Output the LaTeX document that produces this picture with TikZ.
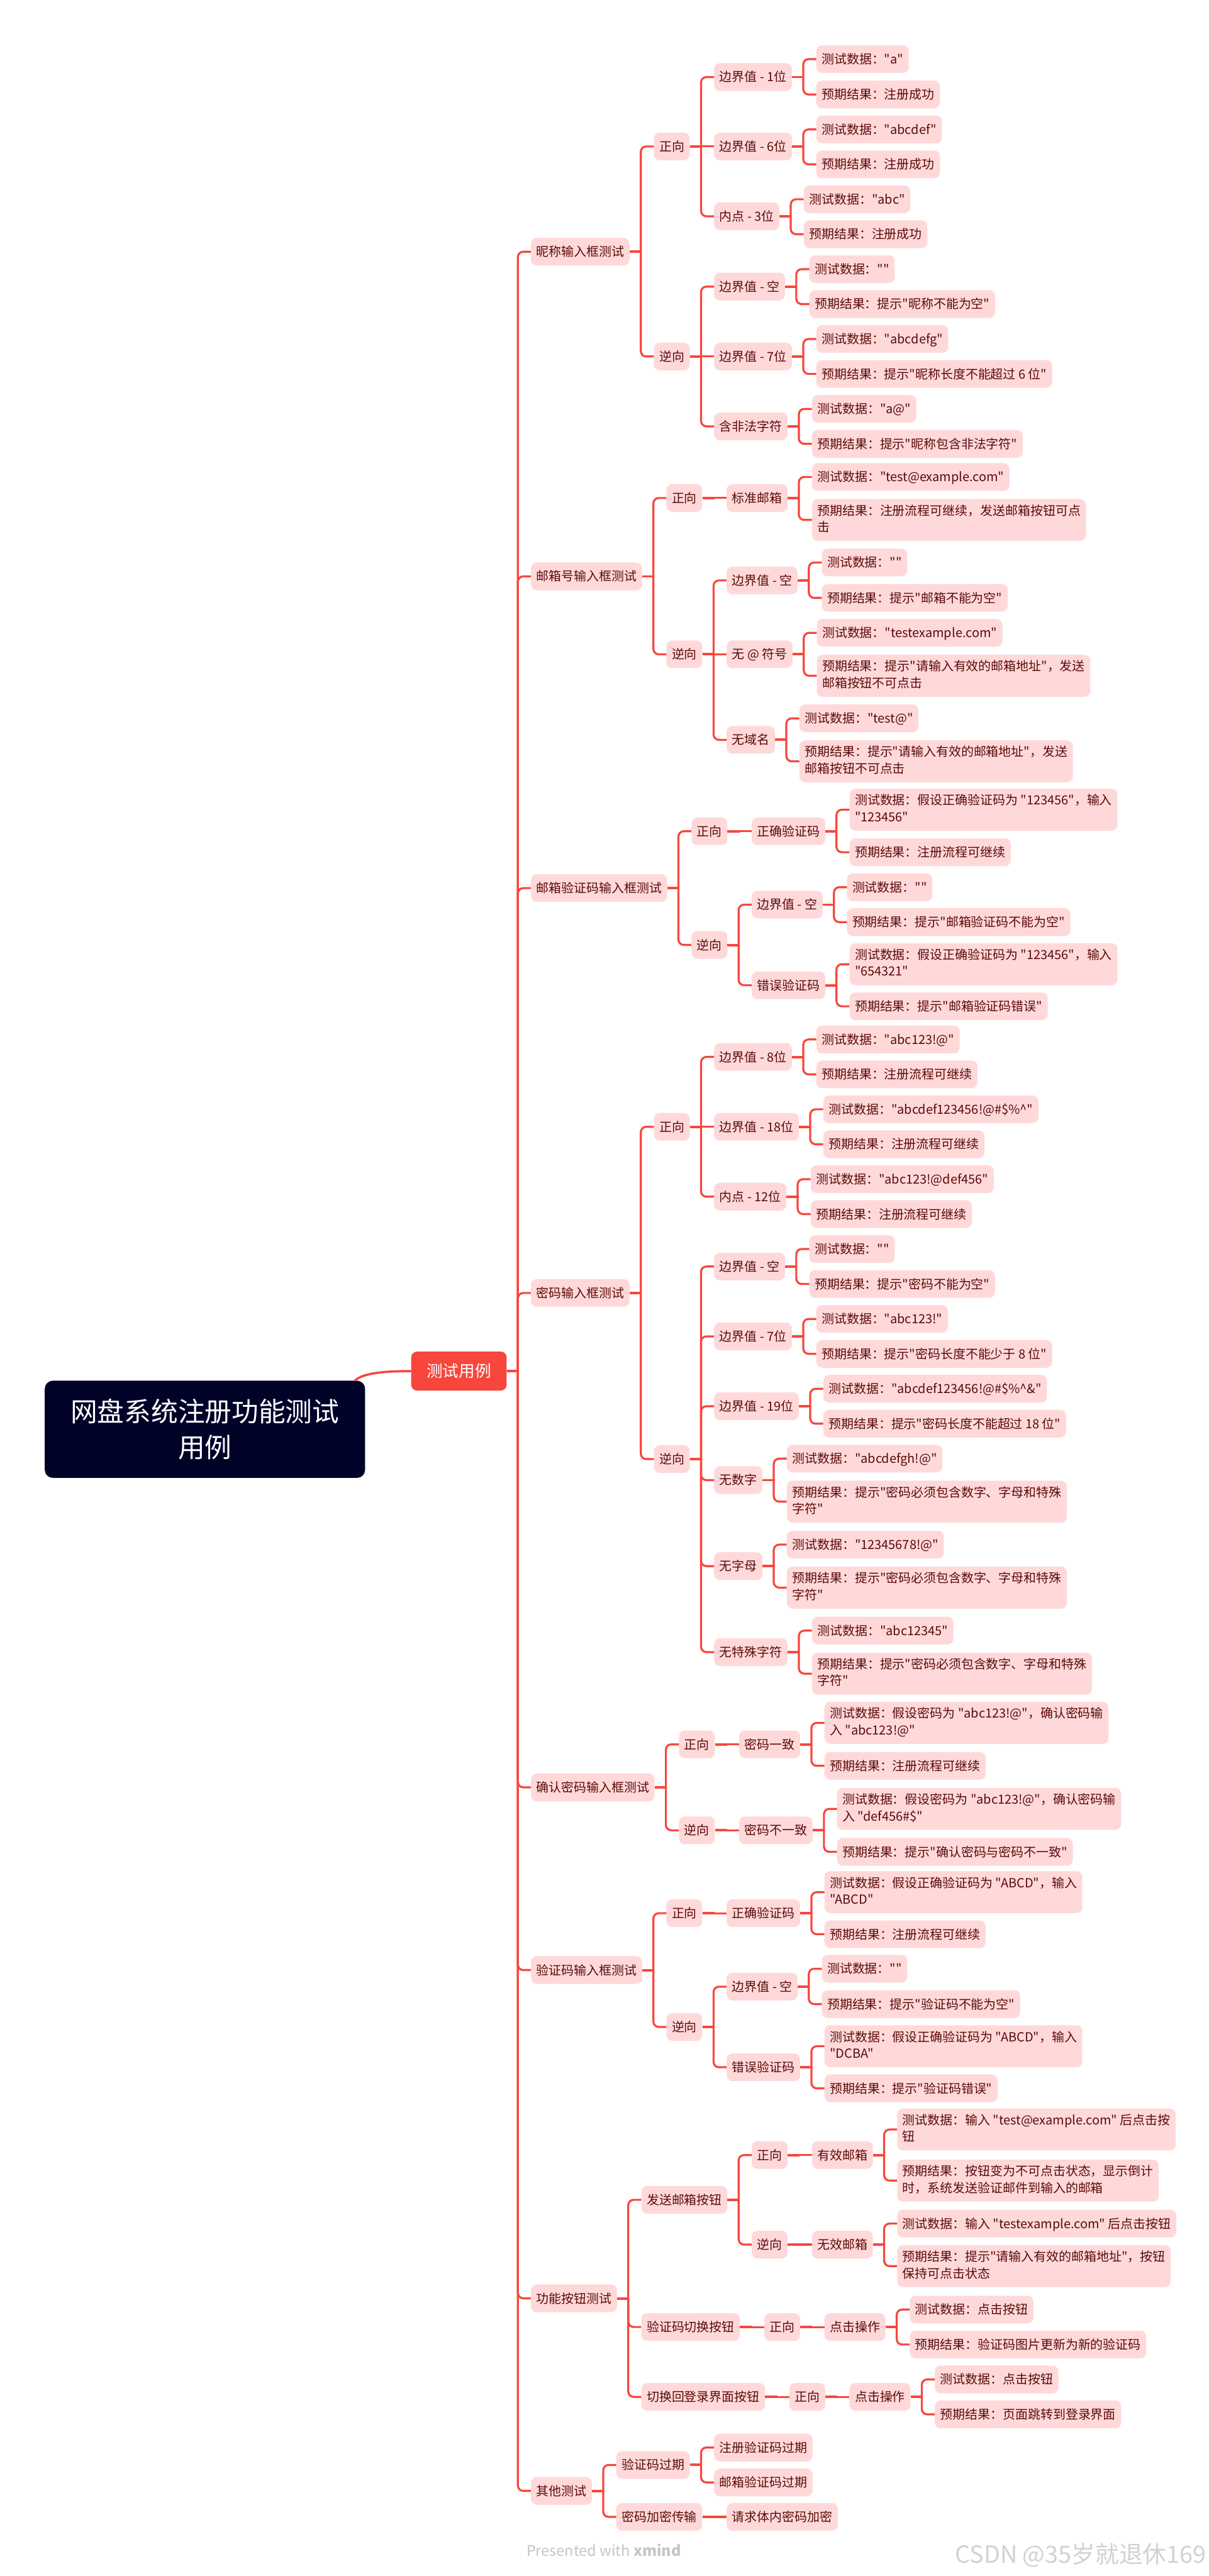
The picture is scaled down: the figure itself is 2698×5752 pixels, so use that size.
\documentclass[tikz,border=0pt]{standalone}
\usepackage{fontspec}
\setmainfont{Noto Sans CJK SC}[Ligatures=TeXOff]
\usetikzlibrary{calc}
\definecolor{lnred}{HTML}{F8463C}
\definecolor{pinkbg}{HTML}{FFD9D9}
\definecolor{txt}{HTML}{5B0A0A}
\definecolor{rootbg}{HTML}{000228}
\newcommand\st{\rule[-8pt]{0pt}{37pt}}
\tikzset{
  box/.style={fill=pinkbg, text=txt, rounded corners=13pt, inner xsep=12pt, inner ysep=12.5pt,
    font=\fontsize{28}{37}\selectfont, align=left, execute at begin node=\st, execute at end node=\st},
  conn/.style={draw=lnred, line width=4.5pt, rounded corners=12pt},
  stub/.style={draw=lnred, line width=5.5pt},
  rootc/.style={draw=lnred, line width=5pt},
  rootbox/.style={fill=rootbg, text=white, rounded corners=18pt, minimum width=715pt, minimum height=217pt,
    font=\fontsize{60}{80}\selectfont, align=center, inner sep=0pt},
  topbox/.style={fill=lnred, text=white, rounded corners=13pt, minimum width=213pt, minimum height=87pt,
    font=\fontsize{36}{40}\selectfont, inner sep=0pt},
}
% #1 parent, #2 name, #3 y, #4 text  (child with bend)
\newcommand\kid[4]{%
  \path (#1.east) ++(54,0) coordinate (#2-l);
  \coordinate (#2-y) at (0,#3);
  \node[box, anchor=west] (#2) at (#2-l |- #2-y) {#4};
  \path (#1.east) ++(25,0) coordinate (#1-sp);
  \path (#1.east) ++(27,0) coordinate (#1-sq);
  \draw[stub] (#1.east) -- (#1-sq);
  \draw[conn] (#1-sp) |- (#2.west);
}
% straight child, same y as parent
\newcommand\kidS[4]{%
  \path (#1.east) ++(54,0) coordinate (#2-l);
  \coordinate (#2-y) at (0,#3);
  \node[box, anchor=west] (#2) at (#2-l |- #2-y) {#4};
  \path (#1.east) ++(27,0) coordinate (#1-sq);
  \draw[stub] (#1.east) -- (#1-sq);
  \draw[conn] (#1-sq) -- (#2.west);
}
\begin{document}
\begin{tikzpicture}[x=1pt, y=-1pt]
\fill[white] (0,0) rectangle (2698,5752);
\useasboundingbox (0,0) rectangle (2698,5752);

\node[rootbox] (root) at (457.5,3191.5) {网盘系统注册功能测试\\用例};
\node[topbox] (tc) at (1024.5,3061.5) {测试用例};
\coordinate (rootstart) at ([xshift=-23pt]root.north east);
\draw[rootc] (rootstart) .. controls +(18,-17) and +(-60,0) .. (tc.west);

% 1
\kid{tc}{a1}{562}{昵称输入框测试}
\kid{a1}{a1z}{327}{正向}
\kid{a1z}{a1z1}{172}{边界值 - 1位}
\kid{a1z1}{a1z1d}{132}{测试数据："a"}
\kid{a1z1}{a1z1r}{211}{预期结果：注册成功}
\kidS{a1z}{a1z2}{327}{边界值 - 6位}
\kid{a1z2}{a1z2d}{289}{测试数据："abcdef"}
\kid{a1z2}{a1z2r}{367}{预期结果：注册成功}
\kid{a1z}{a1z3}{483}{内点 - 3位}
\kid{a1z3}{a1z3d}{445}{测试数据："abc"}
\kid{a1z3}{a1z3r}{523}{预期结果：注册成功}
\kid{a1}{a1n}{796}{逆向}
\kid{a1n}{a1n1}{640}{边界值 - 空}
\kid{a1n1}{a1n1d}{601}{测试数据：""}
\kid{a1n1}{a1n1r}{679}{预期结果：提示"昵称不能为空"}
\kidS{a1n}{a1n2}{796}{边界值 - 7位}
\kid{a1n2}{a1n2d}{757}{测试数据："abcdefg"}
\kid{a1n2}{a1n2r}{835}{预期结果：提示"昵称长度不能超过 6 位"}
\kid{a1n}{a1n3}{952}{含非法字符}
\kid{a1n3}{a1n3d}{913}{测试数据："a@"}
\kid{a1n3}{a1n3r}{991}{预期结果：提示"昵称包含非法字符"}

% 2
\kid{tc}{a2}{1287}{邮箱号输入框测试}
\kid{a2}{a2z}{1112}{正向}
\kidS{a2z}{a2z1}{1112}{标准邮箱}
\kid{a2z1}{a2z1d}{1065}{测试数据："test@example.com"}
\kid{a2z1}{a2z1r}{1161}{预期结果：注册流程可继续，发送邮箱按钮可点\\击}
\kid{a2}{a2n}{1461}{逆向}
\kid{a2n}{a2n1}{1296}{边界值 - 空}
\kid{a2n1}{a2n1d}{1256}{测试数据：""}
\kid{a2n1}{a2n1r}{1335}{预期结果：提示"邮箱不能为空"}
\kidS{a2n}{a2n2}{1461}{无 @ 符号}
\kid{a2n2}{a2n2d}{1413}{测试数据："testexample.com"}
\kid{a2n2}{a2n2r}{1509}{预期结果：提示"请输入有效的邮箱地址"，发送\\邮箱按钮不可点击}
\kid{a2n}{a2n3}{1652}{无域名}
\kid{a2n3}{a2n3d}{1604}{测试数据："test@"}
\kid{a2n3}{a2n3r}{1700}{预期结果：提示"请输入有效的邮箱地址"，发送\\邮箱按钮不可点击}

% 3
\kid{tc}{a3}{1983}{邮箱验证码输入框测试}
\kid{a3}{a3z}{1856}{正向}
\kidS{a3z}{a3z1}{1856}{正确验证码}
\kid{a3z1}{a3z1d}{1808}{测试数据：假设正确验证码为 "123456"，输入\\"123456"}
\kid{a3z1}{a3z1r}{1903}{预期结果：注册流程可继续}
\kid{a3}{a3n}{2110}{逆向}
\kid{a3n}{a3n1}{2020}{边界值 - 空}
\kid{a3n1}{a3n1d}{1981}{测试数据：""}
\kid{a3n1}{a3n1r}{2059}{预期结果：提示"邮箱验证码不能为空"}
\kid{a3n}{a3n2}{2200}{错误验证码}
\kid{a3n2}{a3n2d}{2153}{测试数据：假设正确验证码为 "123456"，输入\\"654321"}
\kid{a3n2}{a3n2r}{2247}{预期结果：提示"邮箱验证码错误"}

% 4
\kid{tc}{a4}{2887}{密码输入框测试}
\kid{a4}{a4z}{2516}{正向}
\kid{a4z}{a4z1}{2360}{边界值 - 8位}
\kid{a4z1}{a4z1d}{2321}{测试数据："abc123!@"}
\kid{a4z1}{a4z1r}{2399}{预期结果：注册流程可继续}
\kidS{a4z}{a4z2}{2516}{边界值 - 18位}
\kid{a4z2}{a4z2d}{2477}{测试数据："abcdef123456!@\#\$\%\textasciicircum"}
\kid{a4z2}{a4z2r}{2555}{预期结果：注册流程可继续}
\kid{a4z}{a4z3}{2672}{内点 - 12位}
\kid{a4z3}{a4z3d}{2633}{测试数据："abc123!@def456"}
\kid{a4z3}{a4z3r}{2711}{预期结果：注册流程可继续}
\kid{a4}{a4n}{3258}{逆向}
\kid{a4n}{a4n1}{2828}{边界值 - 空}
\kid{a4n1}{a4n1d}{2789}{测试数据：""}
\kid{a4n1}{a4n1r}{2867}{预期结果：提示"密码不能为空"}
\kid{a4n}{a4n2}{2984}{边界值 - 7位}
\kid{a4n2}{a4n2d}{2945}{测试数据："abc123!"}
\kid{a4n2}{a4n2r}{3023}{预期结果：提示"密码长度不能少于 8 位"}
\kid{a4n}{a4n3}{3140}{边界值 - 19位}
\kid{a4n3}{a4n3d}{3101}{测试数据："abcdef123456!@\#\$\%\textasciicircum\&"}
\kid{a4n3}{a4n3r}{3179}{预期结果：提示"密码长度不能超过 18 位"}
\kid{a4n}{a4n4}{3305}{无数字}
\kid{a4n4}{a4n4d}{3257}{测试数据："abcdefgh!@"}
\kid{a4n4}{a4n4r}{3353}{预期结果：提示"密码必须包含数字、字母和特殊\\字符"}
\kid{a4n}{a4n5}{3497}{无字母}
\kid{a4n5}{a4n5d}{3449}{测试数据："12345678!@"}
\kid{a4n5}{a4n5r}{3545}{预期结果：提示"密码必须包含数字、字母和特殊\\字符"}
\kid{a4n}{a4n6}{3689}{无特殊字符}
\kid{a4n6}{a4n6d}{3641}{测试数据："abc12345"}
\kid{a4n6}{a4n6r}{3737}{预期结果：提示"密码必须包含数字、字母和特殊\\字符"}

% 5
\kid{tc}{a5}{3991}{确认密码输入框测试}
\kid{a5}{a5z}{3895}{正向}
\kidS{a5z}{a5z1}{3895}{密码一致}
\kid{a5z1}{a5z1d}{3847}{测试数据：假设密码为 "abc123!@"，确认密码输\\入 "abc123!@"}
\kid{a5z1}{a5z1r}{3943}{预期结果：注册流程可继续}
\kid{a5}{a5n}{4087}{逆向}
\kidS{a5n}{a5n1}{4087}{密码不一致}
\kid{a5n1}{a5n1d}{4039}{测试数据：假设密码为 "abc123!@"，确认密码输\\入 "def456\#\$"}
\kid{a5n1}{a5n1r}{4135}{预期结果：提示"确认密码与密码不一致"}

% 6
\kid{tc}{a6}{4399}{验证码输入框测试}
\kid{a6}{a6z}{4272}{正向}
\kidS{a6z}{a6z1}{4272}{正确验证码}
\kid{a6z1}{a6z1d}{4225}{测试数据：假设正确验证码为 "ABCD"，输入\\"ABCD"}
\kid{a6z1}{a6z1r}{4319}{预期结果：注册流程可继续}
\kid{a6}{a6n}{4526}{逆向}
\kid{a6n}{a6n1}{4436}{边界值 - 空}
\kid{a6n1}{a6n1d}{4396}{测试数据：""}
\kid{a6n1}{a6n1r}{4475}{预期结果：提示"验证码不能为空"}
\kid{a6n}{a6n2}{4616}{错误验证码}
\kid{a6n2}{a6n2d}{4569}{测试数据：假设正确验证码为 "ABCD"，输入\\"DCBA"}
\kid{a6n2}{a6n2r}{4663}{预期结果：提示"验证码错误"}

% 7
\kid{tc}{a7}{5132}{功能按钮测试}
\kid{a7}{a7a}{4912}{发送邮箱按钮}
\kid{a7a}{a7az}{4812}{正向}
\kidS{a7az}{a7az1}{4812}{有效邮箱}
\kid{a7az1}{a7az1d}{4755}{测试数据：输入 "test@example.com" 后点击按\\钮}
\kid{a7az1}{a7az1r}{4869}{预期结果：按钮变为不可点击状态，显示倒计\\时，系统发送验证邮件到输入的邮箱}
\kid{a7a}{a7an}{5012}{逆向}
\kidS{a7an}{a7an1}{5012}{无效邮箱}
\kid{a7an1}{a7an1d}{4965}{测试数据：输入 "testexample.com" 后点击按钮}
\kid{a7an1}{a7an1r}{5060}{预期结果：提示"请输入有效的邮箱地址"，按钮\\保持可点击状态}
\kid{a7}{a7b}{5196}{验证码切换按钮}
\kidS{a7b}{a7bz}{5196}{正向}
\kidS{a7bz}{a7bz1}{5196}{点击操作}
\kid{a7bz1}{a7bz1d}{5157}{测试数据：点击按钮}
\kid{a7bz1}{a7bz1r}{5235}{预期结果：验证码图片更新为新的验证码}
\kid{a7}{a7c}{5352}{切换回登录界面按钮}
\kidS{a7c}{a7cz}{5352}{正向}
\kidS{a7cz}{a7cz1}{5352}{点击操作}
\kid{a7cz1}{a7cz1d}{5313}{测试数据：点击按钮}
\kid{a7cz1}{a7cz1r}{5391}{预期结果：页面跳转到登录界面}

% 8
\kid{tc}{a8}{5562}{其他测试}
\kid{a8}{a8a}{5504}{验证码过期}
\kid{a8a}{a8a1}{5465}{注册验证码过期}
\kid{a8a}{a8a2}{5543}{邮箱验证码过期}
\kid{a8}{a8b}{5620}{密码加密传输}
\kidS{a8b}{a8b1}{5620}{请求体内密码加密}

\node[font=\fontsize{33}{36}\selectfont, text=gray!45] (foot) at (1348,5694) {Presented with \textbf{xmind}};
\node[font=\fontsize{53}{56}\selectfont, text=gray!35, anchor=east] (wm) at (2696,5706) {CSDN @35岁就退休169};
\end{tikzpicture}
\end{document}
